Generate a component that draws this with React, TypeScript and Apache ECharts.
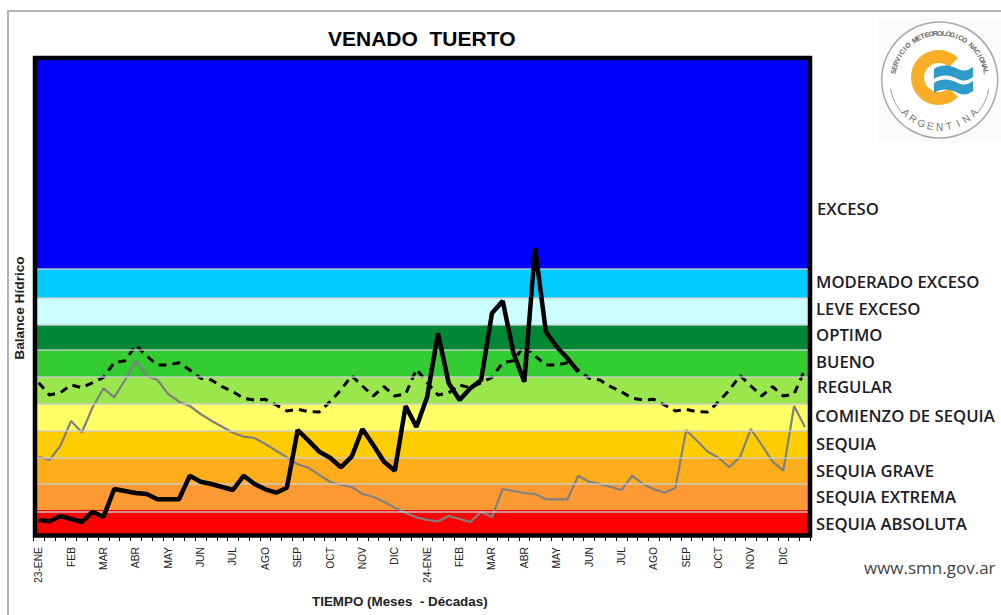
import React, { useEffect, useRef } from "react";
import * as echarts from "echarts";

const monthTicks = ["23-ENE","FEB","MAR","ABR","MAY","JUN","JUL","AGO","SEP","OCT","NOV","DIC","24-ENE","FEB","MAR","ABR","MAY","JUN","JUL","AGO","SEP","OCT","NOV","DIC"];

const year23 = [16,14.7,20,17,14,24.3,19,47,45,43,42,36.7,36.7,36.7,60.3,54.3,52,49,46,60.3,52,46.7,43.3,48.3,106,95.3,84.3,78.3,68.7,79.3,107,91,74.3,65.3,130,109];
const year24 = [139.3,202.7,152.7,136,147.7,156,222.7,235,182.7,154.3,287.7,204.3,189.3,177.7,164.3];
const year22 = [79.3,76,90,115,103.7,128.7,147.7,138.7,156,175,160,156,142,134.3,130,122,115.3,109.3,103.3,99.3,98,92,85.3,78.7,71.7,68.3,61,54.3,51,49,42,39.3,34.3,28.3,23.3,18.7];
const normalYear = [153.3,141,143.3,151,148.3,153.3,158.7,173.3,175.3,190.7,180,171,171,173.3,166,157.7,156,149.3,144.3,137.7,136,136.7,131,125,126.7,124.3,124,134.3,146,160.3,150,140,149.3,140,142,166.7];

const bandNames = ["SEQUIA ABSOLUTA","SEQUIA EXTREMA","SEQUIA GRAVE","SEQUIA","COMIENZO DE SEQUIA","REGULAR","BUENO","OPTIMO","LEVE EXCESO","MODERADO EXCESO","EXCESO"];
const bandEdges = [0,26,52,78,105,132,159,186,211,238,267,478];
const bandColors = ["#FF0000","#FF9933","#FFAD1A","#FFCC00","#FFFF66","#99E64D","#33CC33","#008837","#CCFFFF","#00CCFF","#0000FF"];
const bandLines = [24,52,78,105,132,159,186,211,238,267];

const labelX = [816,816,816,816,815,817,816,816,816,816,817];
const labelY = [523,496,470,443,415,386,361,334,308,281,208];

const SANS = '"Liberation Sans", Arial, sans-serif';
const LABEL_FONT = '"Open Sans", "Noto Sans", sans-serif';

const WAVE = "M0 3 C8 -2 16 -1 24 3 C30 6 35 4 39 1 L39 11 C35 14 30 16 24 13 C16 9 8 8 0 13 Z";
echarts.graphic.registerShape("smnWave", echarts.graphic.extendPath(WAVE, {}));

function arcText(text: string, cx: number, cy: number, r: number, spanDeg: number, bottom: boolean, font: string, fill: string) {
  const chars = Array.from(text);
  return chars.map((ch, i) => {
    const t = chars.length > 1 ? i / (chars.length - 1) - 0.5 : 0;
    const a = (t * spanDeg * Math.PI) / 180;
    return {
      type: "text",
      x: cx + r * Math.sin(a),
      y: bottom ? cy + r * Math.cos(a) : cy - r * Math.cos(a),
      rotation: bottom ? a : -a,
      silent: true,
      style: { text: ch, font, fill, textAlign: "center", textVerticalAlign: "middle" },
    };
  });
}

function logo() {
  const cx = 939.7, cy = 80;
  return {
    type: "group",
    children: [
      { type: "rect", shape: { x: 879, y: 18, width: 122, height: 124 }, style: { fill: "#FBFBFB" } },
      { type: "circle", shape: { cx, cy, r: 58 }, style: { fill: "#fff", stroke: "#A8A8A8", lineWidth: 1.5 } },
      { type: "arc", shape: { cx, cy, r: 50, startAngle: (170 * Math.PI) / 180, endAngle: (138 * Math.PI) / 180, clockwise: false }, style: { stroke: "#A0A0A0", fill: "none", lineWidth: 1 } },
      { type: "arc", shape: { cx, cy, r: 50, startAngle: (42 * Math.PI) / 180, endAngle: (10 * Math.PI) / 180, clockwise: false }, style: { stroke: "#A0A0A0", fill: "none", lineWidth: 1 } },
      { type: "arc", shape: { cx: 938.5, cy: 77.5, r: 21, startAngle: Math.PI / 4, endAngle: (7 * Math.PI) / 4, clockwise: true }, style: { stroke: "#F9AE26", fill: "none", lineWidth: 13 } },
      { type: "smnWave", x: 934, y: 66, style: { fill: "#2F9BCB" } },
      { type: "smnWave", x: 934, y: 80, style: { fill: "#2F9BCB" } },
      ...arcText("SERVICIO METEOROLÓGICO NACIONAL", cx, cy, 47, 160, false, `bold 7px ${SANS}`, "#666"),
      ...arcText("ARGENTINA", cx, cy, 47, 92, true, `10px ${SANS}`, "#777"),
    ],
  };
}

export default function App() {
  const ref = useRef<HTMLDivElement>(null);
  useEffect(() => {
    document.body.style.margin = "0";
    const chart = echarts.init(ref.current!, undefined, { renderer: "svg" });
    const categories: string[] = [];
    monthTicks.forEach((m) => categories.push(m, "", ""));
    chart.setOption({
      animation: false,
      backgroundColor: "#fff",
      title: {
        text: "VENADO  TUERTO",
        left: 328,
        top: 28,
        padding: 0,
        textStyle: { fontFamily: SANS, fontWeight: "bold", fontSize: 21, color: "#000" },
      },
      grid: { left: 33.3, width: 777, top: 58, height: 478, outerBoundsMode: "none", containLabel: false },
      xAxis: {
        type: "category",
        data: categories,
        boundaryGap: true,
        axisLine: { show: false },
        axisTick: { show: true, interval: 0, length: 5, lineStyle: { color: "#000", width: 1 } },
        axisLabel: { show: true, interval: 0, rotate: 90, margin: 11, fontFamily: SANS, fontSize: 10.3, color: "#222" },
        name: "TIEMPO (Meses  - Décadas)",
        nameLocation: "middle",
        nameGap: 59,
        nameTextStyle: { fontFamily: SANS, fontWeight: "bold", fontSize: 13.4, color: "#222", padding: [0, 44, 0, 0] },
      },
      yAxis: {
        type: "value",
        min: 0,
        max: 478,
        axisLine: { show: false },
        axisTick: { show: false },
        axisLabel: { show: false },
        splitLine: { show: false },
      },
      series: [
        {
          type: "line",
          name: "Categorías",
          z: 1,
          data: [],
          silent: true,
          markArea: {
            silent: true,
            data: bandColors.map((c, i) => [
              { yAxis: bandEdges[i], itemStyle: { color: c, opacity: 1 } },
              { yAxis: bandEdges[i + 1] },
            ]),
          },
          markLine: {
            silent: true,
            symbol: "none",
            label: { show: false },
            lineStyle: { color: "rgba(205,205,205,0.9)", width: 1.5, type: "solid" },
            data: bandLines.map((v) => ({ yAxis: v })),
          },
        },
        {
          type: "line",
          name: "Normal",
          z: 3,
          symbol: "none",
          data: [...normalYear, ...normalYear],
          lineStyle: { color: "#000", width: 3, type: [8, 6] },
        },
        {
          type: "line",
          name: "Año anterior",
          z: 4,
          symbol: "none",
          data: [...year22, ...year23],
          lineStyle: { color: "#808080", width: 2.2 },
        },
        {
          type: "line",
          name: "Año actual",
          z: 5,
          symbol: "none",
          data: [...year23, ...year24],
          lineStyle: { color: "#000", width: 4.5 },
        },
      ],
      graphic: {
        elements: [
          { type: "rect", z: 1, shape: { x: 8, y: 11, width: 1100, height: 700 }, style: { fill: "none", stroke: "#B4B4B4", lineWidth: 2 }, silent: true },
          { type: "rect", z: 10, shape: { x: 35, y: 58, width: 775, height: 477.5 }, style: { fill: "none", stroke: "#000", lineWidth: 4.5 }, silent: true },
          { type: "text", z: 10, x: 19, y: 308, rotation: Math.PI / 2, style: { text: "Balance Hídrico", font: `bold 13.7px ${SANS}`, fill: "#222", textAlign: "center", textVerticalAlign: "middle" } },
          ...bandNames.map((n, i) => ({
            type: "text",
            z: 10,
            x: labelX[i],
            y: labelY[i],
            style: { text: n, font: `600 16.7px ${LABEL_FONT}`, fill: "#1C1C28", textVerticalAlign: "middle" },
          })),
          { type: "text", z: 10, x: 864, y: 567, style: { text: "www.smn.gov.ar", font: `17px ${LABEL_FONT}`, fill: "#444", textVerticalAlign: "middle" } },
          { ...logo(), z: 10 },
        ],
      },
    });
    return () => chart.dispose();
  }, []);
  return <div ref={ref} style={{ position: "absolute", left: 0, top: 0, width: 1001, height: 615 }} />;
}
